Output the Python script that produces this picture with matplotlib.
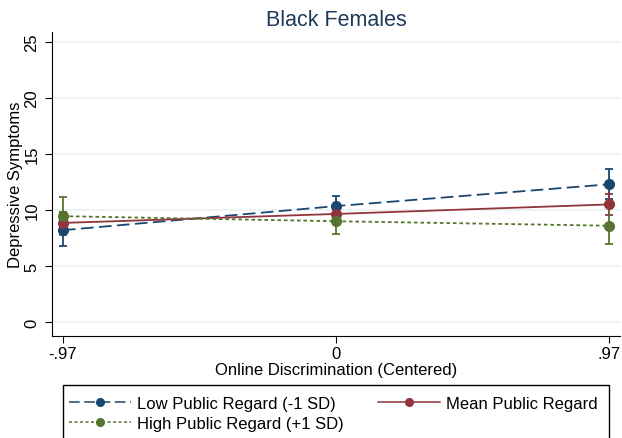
import matplotlib.pyplot as plt
from matplotlib.lines import Line2D
from matplotlib.patches import Rectangle

plt.rcParams['font.family'] = ['Liberation Sans', 'DejaVu Sans']

x = [-0.97, 0, 0.97]
xlabels = ['-.97', '0', '.97']

low = [8.2, 10.35, 12.3]
low_err = [1.4, 0.9, 1.35]
mean = [8.85, 9.65, 10.5]
mean_err = [1.0, 0.6, 0.9]
high = [9.45, 9.0, 8.6]
high_err = [1.7, 1.15, 1.65]

NAVY = '#1a476f'
MAROON = '#90353b'
GREEN = '#55752f'

W, H = 622, 439
fig = plt.figure(figsize=(W / 100, H / 100), dpi=100)
ax = fig.add_axes([52 / W, 1 - 337 / H, 568 / W, 304 / H])

styles = [
    (low, low_err, NAVY, dict(dashes=(7, 3)), 'Low Public Regard (-1 SD)'),
    (mean, mean_err, MAROON, dict(ls='-'), 'Mean Public Regard'),
    (high, high_err, GREEN, dict(dashes=(2, 1.6)), 'High Public Regard (+1 SD)'),
]
handles = {}
for vals, err, col, ls, name in styles:
    ax.errorbar(x, vals, yerr=err, color=col, marker='o', ms=7, lw=1.3,
                capsize=3, elinewidth=1.3, capthick=1.3, zorder=3, **ls)
    handles[name] = Line2D([], [], color=col, marker='o', ms=5.5, lw=1.1, **ls)

ax.set_xlim(-1.009, 1.009)
ax.set_ylim(-1.25, 25.9)
ax.set_xticks(x)
ax.set_xticklabels(xlabels)
ax.set_yticks([0, 5, 10, 15, 20, 25])
ax.tick_params(axis='y', labelrotation=90, length=5, labelsize=12, pad=4)
ax.tick_params(axis='x', length=5, labelsize=12, pad=2)
for t in ax.get_yticklabels():
    t.set_va('center')
ax.yaxis.grid(True, color='#eaf2f3', lw=1.2)
ax.set_axisbelow(True)
for s in ['top', 'right']:
    ax.spines[s].set_visible(False)

ax.set_xlabel('Online Discrimination (Centered)', fontsize=12, labelpad=1)
ax.set_ylabel('Depressive Symptoms', fontsize=12)
ax.yaxis.set_label_coords(-0.051, 0.5)
ax.set_title('Black Females', fontsize=15.5, color='#1e3b5a', pad=5)

# legend frame runs off the bottom of the figure, as in the original
fig.patches.append(Rectangle((63 / W, -0.05), 546 / W, 0.05 + 1 - 386 / H,
                             transform=fig.transFigure, fill=False,
                             edgecolor='black', lw=1))
order = ['Low Public Regard (-1 SD)', 'High Public Regard (+1 SD)',
         'Mean Public Regard']
fig.legend(handles=[handles[n] for n in order], labels=order,
           ncol=2, loc='upper left', bbox_to_anchor=(69 / W, 1 - 397 / H),
           frameon=False, fontsize=12, handlelength=3.7,
           handletextpad=0.36, borderaxespad=0, borderpad=0,
           labelspacing=0.3, columnspacing=2.1)

plt.savefig('out.png', dpi=100)
